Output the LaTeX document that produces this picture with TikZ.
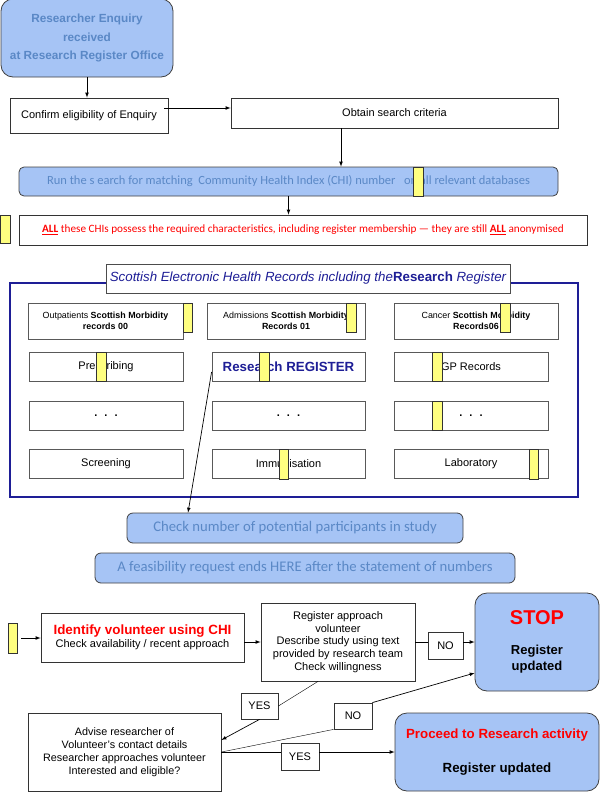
\documentclass[tikz,border=0pt]{standalone}
\usepackage{fontspec}
\setmainfont{Liberation Sans}
\newfontfamily\calibri{Carlito}
\usetikzlibrary{calc}

\definecolor{regblue}{HTML}{A6C4F5}
\definecolor{txtblue}{HTML}{5A88C6}
\definecolor{navy}{HTML}{1E1E96}
\definecolor{hiyellow}{HTML}{FFFF80}

\tikzset{
  plainbox/.style={draw=black!80, fill=white, line width=0.8pt, inner sep=0pt, align=center,
                   font=\fontsize{11}{12.6}\selectfont},
  bluebox/.style={draw=black!75, fill=regblue, rounded corners=6pt, line width=0.8pt, inner sep=0pt, align=center},
  recbox/.style={plainbox, draw=black!65, minimum height=29pt},
  marker/.style={draw=black!80, fill=hiyellow, line width=0.6pt},
  flow/.style={-latex, line width=0.7pt},
}

\begin{document}
\begin{tikzpicture}[x=1pt,y=-1pt]
\useasboundingbox (0,0) rectangle (600,792);

% enquiry and search
\node[bluebox, rounded corners=12pt, minimum width=172pt, minimum height=78pt, text=txtblue,
      font=\bfseries\fontsize{11.8}{18.5}\selectfont] (enquiry) at (87,38)
      {Researcher Enquiry\\received\\at Research Register Office};
\node[plainbox, minimum width=158pt, minimum height=35pt] (confirm) at (89,115.5)
      {Confirm eligibility of Enquiry};
\node[plainbox, minimum width=327pt, minimum height=30pt] (obtain) at (394.5,113)
      {Obtain search criteria};
\node[bluebox, rounded corners=5pt, minimum width=539pt, minimum height=29pt, text=txtblue,
      font=\calibri\fontsize{12.5}{14}\selectfont] (runbar) at (288.5,181.5)
      {Run the s earch for matching\ \ Community Health Index (CHI) number\ \ \ on all relevant databases};
\node[plainbox, minimum width=568pt, minimum height=30pt, text=red, font=\calibri\fontsize{11.2}{13}\selectfont] (allchi) at (303,230)
      {\underline{\textbf{ALL}} these CHIs possess the required characteristics, including register membership — they are still \underline{\textbf{ALL}} anonymised};

% health records
\draw[navy, line width=1.6pt] (10,283) rectangle (578,497);
\node[plainbox, draw=black!70, minimum width=404pt, minimum height=29pt, text=navy,
      font=\itshape\fontsize{13.3}{15}\selectfont] (ehr) at (308,278.5)
      {Scottish Electronic Health Records including the\textbf{\upshape Research} Register};

\node[recbox, minimum width=155pt, minimum height=36pt, font=\fontsize{8.9}{10.5}\selectfont] (smr00) at (105.5,321)
      {Outpatients \textbf{Scottish Morbidity}\\\textbf{records 00}};
\node[recbox, minimum width=158pt, minimum height=36pt, font=\fontsize{8.9}{10.5}\selectfont] (smr01) at (286,321)
      {Admissions \textbf{Scottish Morbidity}\\\textbf{Records 01}};
\node[recbox, minimum width=164pt, minimum height=36pt, font=\fontsize{8.9}{10.5}\selectfont] (smr06) at (476,321)
      {Cancer \textbf{Scottish Morbidity}\\\textbf{Records06}};

\node[recbox, minimum width=154pt] (presc) at (106,366.5) {Prescribing};
\node[recbox, minimum width=153pt, text=navy, font=\bfseries\fontsize{13.3}{15}\selectfont] (register) at (288.5,366.5) {Research REGISTER};
\node[recbox, minimum width=154pt] (gp) at (471,366.5) {GP Records};

\node[recbox, minimum width=154pt, font=\bfseries\fontsize{11}{12}\selectfont] (more1) at (106,415.5) {.\hspace{7pt}.\hspace{7pt}.};
\node[recbox, minimum width=153pt, font=\bfseries\fontsize{11}{12}\selectfont] (more2) at (288.5,415.5) {.\hspace{7pt}.\hspace{7pt}.};
\node[recbox, minimum width=154pt, font=\bfseries\fontsize{11}{12}\selectfont] (more3) at (471,415.5) {.\hspace{7pt}.\hspace{7pt}.};

\node[recbox, minimum width=154pt] (screen) at (106,464) {Screening};
\node[recbox, minimum width=153pt] (immun) at (288.5,464) {Immunisation};
\node[recbox, minimum width=154pt] (lab) at (471,464) {Laboratory};

% yellow markers
\foreach \xa/\ya/\xb/\yb in {413/167/423/196, 0.5/215/10/243,
    183/303/192/332, 346/303/356/332, 500/303/510/332,
    96/352/106/381, 259/352/269/381, 432/352/442/381,
    432/401/442/430, 279/449/288/479, 529/449/538/479}
  \draw[marker] (\xa,\ya) rectangle (\xb,\yb);

% feasibility
\node[bluebox, minimum width=336pt, minimum height=30pt, text=txtblue, font=\calibri\fontsize{14.7}{16}\selectfont] (check) at (295,528)
      {Check number of potential participants in study};
\node[bluebox, minimum width=420pt, minimum height=30pt, text=txtblue, font=\calibri\fontsize{14.7}{16}\selectfont] (feas) at (305,568)
      {A feasibility request ends HERE after the statement of numbers};

% volunteer approach
\node[marker, minimum width=9pt, minimum height=30pt, inner sep=0pt] (volmark) at (12.5,638) {};
\node[plainbox, minimum width=203pt, minimum height=49pt, font=\fontsize{11}{13}\selectfont] (identify) at (142.5,637.5)
      {{\color{red}\bfseries\fontsize{13.4}{14}\selectfont Identify volunteer using CHI}\\Check availability / recent approach};
\node[plainbox, minimum width=154pt, minimum height=78pt] (approach) at (338,642)
      {Register approach\\volunteer\\Describe study using text\\provided by research team\\Check willingness};
\node[plainbox, minimum width=35pt, minimum height=27pt] (no1) at (445.5,645.5) {NO};
\node[bluebox, rounded corners=12pt, minimum width=124pt, minimum height=98pt,
      font=\bfseries\fontsize{13}{16}\selectfont] (stop) at (537,642)
      {{\color{red}\fontsize{20}{22}\selectfont STOP}\\[14pt]Register\\updated};
\node[plainbox, minimum width=37pt, minimum height=26pt] (yes1) at (259.5,706) {YES};
\node[plainbox, minimum width=193pt, minimum height=78pt, font=\fontsize{10.8}{13}\selectfont] (advise) at (124.5,752)
      {Advise researcher of\\Volunteer's contact details\\Researcher approaches volunteer\\Interested and eligible?};
\node[plainbox, minimum width=38pt, minimum height=26pt] (no2) at (353,716) {NO};
\node[plainbox, minimum width=38pt, minimum height=27pt] (yes2) at (300,756.5) {YES};
\node[bluebox, rounded corners=12pt, minimum width=204pt, minimum height=78pt,
      font=\bfseries\fontsize{13.3}{16}\selectfont] (proceed) at (497,752)
      {{\color{red}\fontsize{13.3}{15}\selectfont Proceed to Research activity}\\[18pt]Register updated};

% connectors
\coordinate (obt) at ([xshift=-53.5pt]obtain.south);
\draw[flow] (enquiry.south) -- (enquiry.south |- confirm.north);
\draw[flow] ([xshift=-4pt,yshift=7.5pt]confirm.east) -- ([yshift=5pt]obtain.west);
\draw[flow] (obt) -- (obt |- runbar.north);
\draw[flow] (runbar.south) -- (runbar.south |- allchi.north);
\draw[flow] ([yshift=-5.5pt]register.west) -- ([xshift=-107pt]check.north);

\draw[flow] ([xshift=4pt]volmark.east) -- (volmark.east -| identify.west);
\draw[flow] (approach.west -| identify.east) -- (approach.west);
\draw (approach.east) -- (approach.east -| no1.west);
\draw[flow] (approach.east -| no1.east) -- (approach.east -| stop.west);
\draw ([xshift=-20pt]approach.south) -- (yes1.east);
\draw[flow] (yes1.south) -- ([yshift=12pt]advise.east);
\draw (advise.east) -- (no2.south west);
\draw[flow] (no2.north east) -- ([yshift=-31pt]stop.west);
\draw (advise.east) -- (advise.east -| yes2.west);
\draw[flow] (advise.east -| yes2.east) -- (advise.east -| proceed.west);
\end{tikzpicture}
\end{document}
